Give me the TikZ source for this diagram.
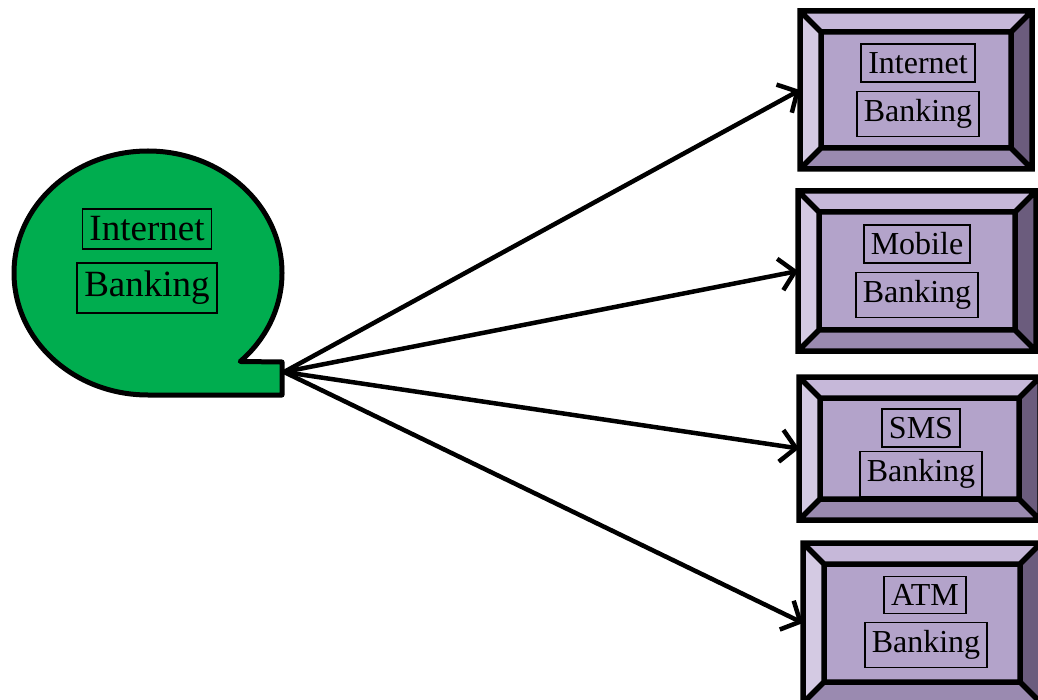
\documentclass[tikz,border=0pt]{standalone}
\usepackage{fontspec}
\setmainfont{Liberation Serif}
\usetikzlibrary{arrows.meta}

\definecolor{blobgreen}{HTML}{00AD4F}
\definecolor{BevelFace}{HTML}{B3A3CA}
\definecolor{BevelTop}{HTML}{C6B8D9}
\definecolor{BevelLeft}{HTML}{D4CAE3}
\definecolor{BevelRight}{HTML}{6B5C7D}
\definecolor{BevelBottom}{HTML}{9A8AB0}

\def\bv{21}

\tikzset{
  bevelbox/.style={rectangle, outer sep=0pt, inner sep=0pt},
  edge/.style={line width=5.5pt, line join=miter},
  word/.style={draw, line width=1.8pt, inner xsep=7pt, inner ysep=8pt, font=\fontsize{32}{38}\selectfont},
  bigword/.style={word, font=\fontsize{37}{44}\selectfont},
  blob/.style={draw, fill=blobgreen, line width=5pt, line join=round},
  link/.style={line width=4.5pt, -{Straight Barb[length=15pt,width=32pt]}}
}

\newcommand{\bevelframe}[1]{%
  \coordinate (#1-a) at (#1.north west);
  \coordinate (#1-b) at (#1.north east);
  \coordinate (#1-c) at (#1.south east);
  \coordinate (#1-d) at (#1.south west);
  \coordinate (#1-ia) at ([shift={(\bv,\bv)}]#1.north west);
  \coordinate (#1-ib) at ([shift={(-\bv,\bv)}]#1.north east);
  \coordinate (#1-ic) at ([shift={(-\bv,-\bv)}]#1.south east);
  \coordinate (#1-id) at ([shift={(\bv,-\bv)}]#1.south west);
  \fill[BevelTop] (#1-a) -- (#1-b) -- (#1-ib) -- (#1-ia) -- cycle;
  \fill[BevelRight] (#1-b) -- (#1-c) -- (#1-ic) -- (#1-ib) -- cycle;
  \fill[BevelBottom] (#1-c) -- (#1-d) -- (#1-id) -- (#1-ic) -- cycle;
  \fill[BevelLeft] (#1-d) -- (#1-a) -- (#1-ia) -- (#1-id) -- cycle;
  \fill[BevelFace] (#1-ia) rectangle (#1-ic);
  \draw[edge] (#1-a) rectangle (#1-c) (#1-ia) rectangle (#1-ic)
    (#1-a) -- (#1-ia) (#1-b) -- (#1-ib) (#1-c) -- (#1-ic) (#1-d) -- (#1-id);
}

\begin{document}
\begin{tikzpicture}[x=1pt,y=-1pt]
  \useasboundingbox (0,0) rectangle (1038,700);

  \node[bevelbox, minimum width=232pt, minimum height=158pt] (inet) at (916,90) {};
  \node[bevelbox, minimum width=238pt, minimum height=160pt] (mobile) at (917,271) {};
  \node[bevelbox, minimum width=241pt, minimum height=143pt] (sms) at (919.5,448.5) {};
  \node[bevelbox, minimum width=238pt, minimum height=160pt] (atm) at (922,623) {};
  \bevelframe{inet}
  \bevelframe{mobile}
  \bevelframe{sms}
  \bevelframe{atm}

  \node[word] (inet-top) at (918,63) {Internet};
  \node[word] (inet-bot) at (918,114) {Banking};
  \node[word] (mobile-top) at (917,244) {Mobile};
  \node[word] (mobile-bot) at (917,295) {Banking};
  \node[word] (sms-top) at (921,428) {SMS};
  \node[word] (sms-bot) at (921,474) {Banking};
  \node[word] (atm-top) at (925,595) {ATM};
  \node[word] (atm-bot) at (926,645) {Banking};

  \draw[blob] (148,395) arc[start angle=90, end angle=406.5, x radius=134, y radius=122]
    -- (282,362) -- (282,395) -- cycle;
  \node[bigword] (hub-top) at (147,229) {Internet};
  \node[bigword] (hub-bot) at (147,288) {Banking};
  \coordinate (hub) at (284,372);

  \draw[link] (hub) -- (inet.west);
  \draw[link] (hub) -- (mobile.west);
  \draw[link] (hub) -- (sms.west);
  \draw[link] (hub) -- (atm.west);
\end{tikzpicture}
\end{document}
